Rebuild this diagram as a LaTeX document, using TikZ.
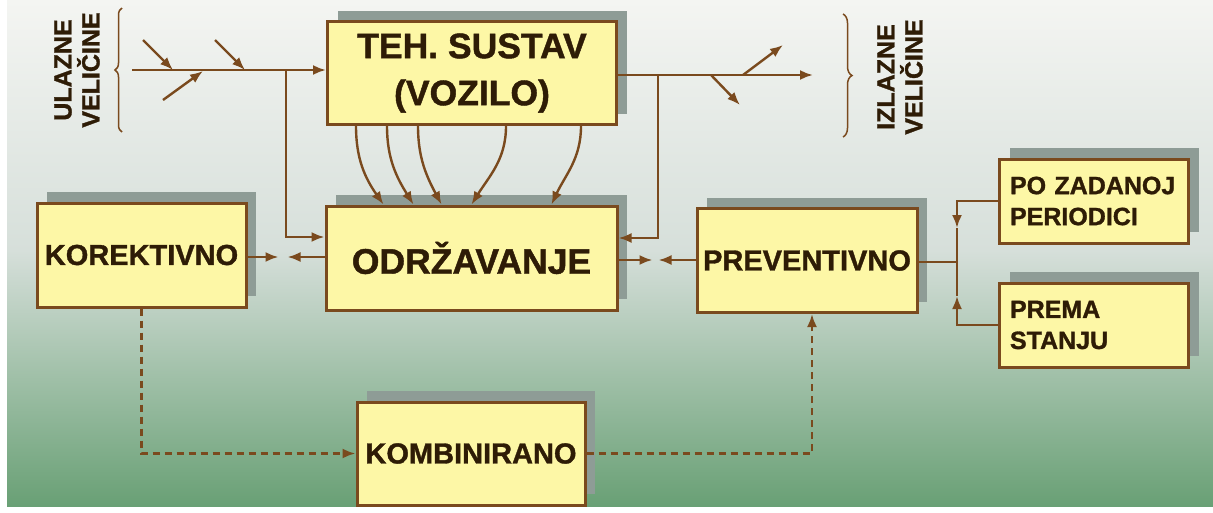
\documentclass[tikz,border=0pt]{standalone}
\usepackage{fontspec}
\setmainfont{Liberation Sans}[BoldFeatures={FakeBold=1.2}]
\usetikzlibrary{arrows.meta,shadows,decorations.pathreplacing}
\definecolor{brn}{HTML}{7A4A1E}
\definecolor{txtbrn}{HTML}{2E1C06}
\definecolor{boxfill}{HTML}{FDF7A6}
\definecolor{shd}{HTML}{8E9C96}
\definecolor{bgtop}{HTML}{F4F5F2}
\definecolor{bgmid}{HTML}{D6DFDA}
\definecolor{bgbot}{HTML}{69A075}
\tikzset{
  box/.style={draw=brn,line width=3pt,fill=boxfill,text=txtbrn,inner sep=4pt,
    general shadow={fill=shd,shadow xshift=10pt,shadow yshift=11pt}},
  conn/.style={draw=brn,line width=2.4pt,-{Latex[length=13pt,width=10pt]}},
  line/.style={draw=brn,line width=2.4pt},
  dashd/.style={dash pattern=on 7pt off 5pt},
  lbl/.style={text=txtbrn,rotate=90,align=center,font=\bfseries\fontsize{25}{28}\selectfont},
  big/.style={font=\bfseries\fontsize{35.5}{47}\selectfont,align=center},
  mid/.style={font=\bfseries\fontsize{29}{34}\selectfont},
  small/.style={font=\bfseries\fontsize{25}{31}\selectfont,align=left,text width=168pt}
}
\begin{document}
\begin{tikzpicture}[x=1pt,y=-1pt]
\useasboundingbox (0,0) rectangle (1213,512);
\fill[white] (0,0) rectangle (1213,512);
\shade[top color=bgtop,bottom color=bgmid] (7,0) rectangle (1213,250.5);
\shade[top color=bgmid,bottom color=bgbot] (7,250) rectangle (1213,506);

\node[box,big,minimum width=289pt,minimum height=103pt] at (472,73) (teh) {TEH. SUSTAV\\(VOZILO)};
\node[box,big,minimum width=291pt,minimum height=104pt] at (471.5,258) (odr) {ODRŽAVANJE};
\node[box,mid,minimum width=209pt,minimum height=104pt] at (141.5,255) (kor) {KOREKTIVNO};
\node[box,mid,minimum width=220pt,minimum height=104pt] at (807,260.5) (prev) {PREVENTIVNO};
\node[box,mid,minimum width=228pt,minimum height=103pt] at (471,453.5) (komb) {KOMBINIRANO};
\node[box,small,minimum width=189pt,minimum height=84pt] at (1094,201) (po) {PO ZADANOJ\\PERIODICI};
\node[box,small,minimum width=189pt,minimum height=84pt] at (1094,325) (prema) {PREMA\\STANJU};

\node[lbl] at (77,70) (ul) {ULAZNE\\VELIČINE};
\node[lbl] at (900,77) (izl) {IZLAZNE\\VELIČINE};
\draw[brn,line width=1.5pt,decorate,decoration={brace,amplitude=7pt}] (122,132) -- (122,8);
\draw[brn,line width=1.5pt,decorate,decoration={brace,amplitude=9pt}] (843,14) -- (843,137);

\coordinate (in) at (132,70);
\coordinate (jl) at (286,70);
\coordinate (out) at (813,75);
\coordinate (jr) at (658,75);
\draw[conn] (in) -- (teh.west |- in);
\foreach \p/\q in {143/30,215/30} \draw[conn] (\p,40) -- ++(\q,30);
\draw[conn] (163,100) -- ++(40,-29);
\draw[conn] (jl) |- ([yshift=21pt]odr.west);
\draw[conn] (teh.east |- out) -- (out);
\draw[conn] (743,75) -- ++(40,-30);
\draw[conn] (711,75) -- ++(29,30);
\draw[conn] (jr) |- ([yshift=20pt]odr.east);

\foreach \a/\b/\i in {30/59/125,61/89/122,92/117/118,180/147/58,255/227/65}
  \draw[conn] ([xshift=\a pt]teh.south west) to[out=-90,in=\i] ([xshift=\b pt]odr.north west);

\coordinate (m1) at (283,257);
\coordinate (m2) at (655.5,260);
\draw[conn] (kor.east |- m1) -- ([xshift=-4.5pt]m1);
\draw[conn] (odr.west |- m1) -- ([xshift=4.5pt]m1);
\draw[conn] (odr.east |- m2) -- ([xshift=-3pt]m2);
\draw[conn] (prev.west |- m2) -- ([xshift=3pt]m2);

\coordinate (jp) at (957,262);
\coordinate (ja) at (957,228);
\coordinate (jb) at (957,296);
\draw[line] (prev.east |- jp) -- (jp);
\draw[conn] (po.west) -| (ja);
\draw[line] (ja) -- (jp);
\draw[conn] (prema.west) -| (jb);
\draw[line] (jb) -- (jp);

\draw[conn,dashd] (kor.south) |- (komb.west);
\draw[conn,dashd] (komb.east) -| ([xshift=5pt]prev.south);
\end{tikzpicture}
\end{document}
